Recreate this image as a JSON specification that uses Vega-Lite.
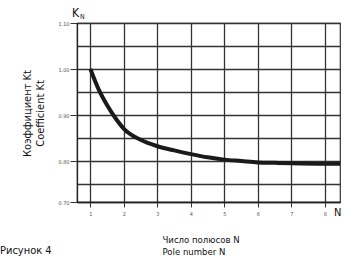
{
  "$schema": "https://vega.github.io/schema/vega-lite/v6.json",
  "autosize": "none",
  "width": 263,
  "height": 179,
  "padding": {"left": 77, "top": 23, "right": 5, "bottom": 54},
  "background": "white",
  "config": {
    "view": {"stroke": "#333333", "strokeWidth": 1.2},
    "font": "DejaVu Sans Condensed, Liberation Sans, sans-serif"
  },
  "title": {
    "text": "Рисунок 4",
    "orient": "bottom",
    "anchor": "start",
    "frame": "group",
    "dx": -77,
    "offset": -11,
    "font": "DejaVu Sans Condensed, Liberation Sans, sans-serif",
    "fontSize": 11,
    "fontWeight": "normal",
    "color": "#111111"
  },
  "encoding": {
    "x": {
      "field": "N", "type": "quantitative",
      "scale": {"domain": [0.6, 8.45], "nice": false, "zero": false},
      "axis": {
        "values": [1, 2, 3, 4, 5, 6, 7, 8],
        "labelOverlap": false,
        "grid": true, "gridColor": "#333333", "gridWidth": 1.3, "gridOpacity": 1,
        "domainColor": "#222222", "domainWidth": 1.3,
        "tickColor": "#333333", "tickSize": 5,
        "labelFont": "DejaVu Sans Condensed, Liberation Sans, sans-serif", "labelFontSize": 5.5, "labelColor": "#555555", "labelPadding": 4,
        "title": ["Число полюсов N", "Pole number N"],
        "titleFont": "DejaVu Sans Condensed, Liberation Sans, sans-serif", "titleFontSize": 9.5, "titleFontWeight": "normal", "titleColor": "#111111",
        "titleAlign": "left", "titleAnchor": "start", "titleX": 85, "titleY": 40, "titleBaseline": "alphabetic", "titleLineHeight": 12
      }
    },
    "y": {
      "field": "K", "type": "quantitative",
      "scale": {"domain": [0.7, 0.75, 1.1], "range": [179, 161, 0], "nice": false, "zero": false},
      "axis": {
        "values": [0.7, 0.75, 0.8, 0.85, 0.9, 0.95, 1.0, 1.05, 1.1],
        "labelOverlap": false,
        "labelExpr": "round(datum.value*100) % 10 == 0 ? format(datum.value, '.2f') : ''",
        "tickColor": {"condition": {"test": "round(datum.value*100) % 10 != 0", "value": "transparent"}, "value": "#333333"},
        "grid": true, "gridColor": "#333333", "gridWidth": 1.3, "gridOpacity": 1,
        "domainColor": "#222222", "domainWidth": 1.3,
        "tickSize": 7,
        "labelFont": "DejaVu Sans Condensed, Liberation Sans, sans-serif", "labelFontSize": 5.5, "labelColor": "#555555", "labelPadding": 1,
        "title": ["Коэффициент Kt", "Coefficient Kt"],
        "titleFont": "DejaVu Sans Condensed, Liberation Sans, sans-serif", "titleFontSize": 11, "titleFontWeight": "normal", "titleColor": "#111111",
        "titleAngle": -90, "titleX": -50, "titleY": 90, "titleAlign": "center", "titleBaseline": "middle", "titleLineHeight": 13
      }
    }
  },
  "layer": [
    {
      "data": {"values": [
        {"N": 1.0, "K": 1.0},
        {"N": 1.25, "K": 0.955},
        {"N": 1.5, "K": 0.921},
        {"N": 1.75, "K": 0.893},
        {"N": 2.0, "K": 0.87},
        {"N": 2.5, "K": 0.846},
        {"N": 3.0, "K": 0.832},
        {"N": 3.5, "K": 0.823},
        {"N": 4.0, "K": 0.815},
        {"N": 4.5, "K": 0.808},
        {"N": 5.0, "K": 0.803},
        {"N": 5.5, "K": 0.8},
        {"N": 6.0, "K": 0.797},
        {"N": 6.5, "K": 0.796},
        {"N": 7.0, "K": 0.795},
        {"N": 8.0, "K": 0.794},
        {"N": 8.45, "K": 0.794}
      ]},
      "mark": {"type": "line", "color": "#1a1a1a", "strokeWidth": 4, "interpolate": "monotone", "clip": true}
    },
    {
      "data": {"values": [{"N": 0.6, "K": 1.1, "t": "K"}]},
      "mark": {"type": "text", "align": "left", "baseline": "alphabetic", "dx": -5, "dy": -6, "fontSize": 12, "color": "#111111"},
      "encoding": {"text": {"field": "t"}}
    },
    {
      "data": {"values": [{"N": 0.6, "K": 1.1, "t": "N"}]},
      "mark": {"type": "text", "align": "left", "baseline": "alphabetic", "dx": 3, "dy": -4, "fontSize": 7, "color": "#111111"},
      "encoding": {"text": {"field": "t"}}
    },
    {
      "data": {"values": [{"N": 8.45, "K": 0.7, "t": "N"}]},
      "mark": {"type": "text", "align": "left", "baseline": "alphabetic", "dx": -6, "dy": 14, "fontSize": 11, "color": "#111111"},
      "encoding": {"text": {"field": "t"}}
    }
  ]
}
